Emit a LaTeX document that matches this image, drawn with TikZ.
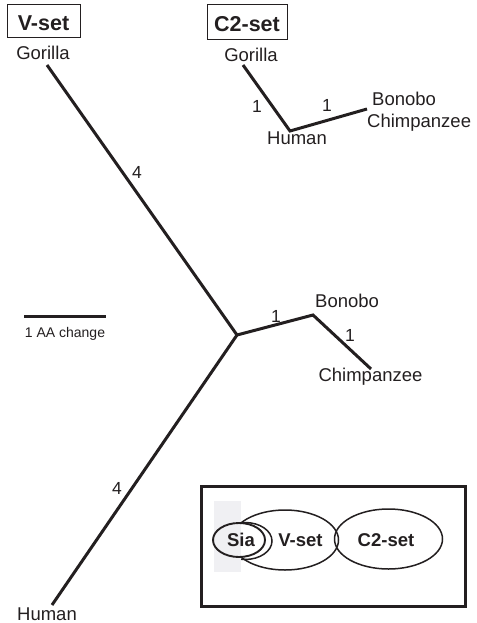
\documentclass[tikz,border=0pt]{standalone}
\usepackage{fontspec}
\setmainfont{Liberation Sans}
\definecolor{ink}{HTML}{231F20}
\definecolor{siagray}{HTML}{F0F0F3}
\begin{document}
\begin{tikzpicture}[x=1pt,y=-1pt,
  lbl/.style={font=\fontsize{18.5}{20}\selectfont, text=ink, inner sep=0pt, anchor=base},
  ttl/.style={font=\fontsize{21.5}{24}\selectfont\bfseries, text=ink, inner sep=0pt, anchor=base},
  setlbl/.style={font=\fontsize{18.5}{20}\selectfont\bfseries, text=ink, inner sep=0pt, anchor=base},
  num/.style={font=\fontsize{17.5}{19}\selectfont, text=ink, inner sep=0pt},
  branch/.style={draw=ink, line width=3pt, line join=miter},
  setline/.style={draw=ink, line width=1.5pt}]
\useasboundingbox (0,0) rectangle (476,623);

% title boxes
\draw[ink, line width=1pt] (7,5) rectangle (80,38);
\node[ttl] (vtitle) at (43.5,30.5) {V-set};
\draw[ink, line width=1pt] (207,5) rectangle (287,40);
\node[ttl] (ctitle) at (247,31.5) {C2-set};

% main tree
\coordinate (mg) at (47,65);
\coordinate (mc) at (237,335);
\coordinate (mh) at (52,605);
\coordinate (mj) at (313,315);
\coordinate (mch) at (371,369);
\draw[branch] (mg) -- (mc) -- (mh);
\draw[branch] (mc) -- (mj) -- (mch);
\node[lbl] (mgor) at (43,60) {Gorilla};
\node[lbl] (mhum) at (47,620.5) {Human};
\node[lbl, anchor=base west] (mbon) at (315,307.5) {Bonobo};
\node[lbl] (mchi) at (370.5,381.7) {Chimpanzee};
\node[num] (n4a) at (137,172) {4};
\node[num] (n4b) at (117,488) {4};
\node[num] (n1a) at (276,316.5) {1};
\node[num] (n1b) at (350,335) {1};

% C2 tree
\coordinate (cg) at (243,65);
\coordinate (ch) at (290,131);
\coordinate (cb) at (367,109);
\draw[branch] (cg) -- (ch) -- (cb);
\node[lbl] (cgor) at (251,61.5) {Gorilla};
\node[lbl] (chum) at (297,144.5) {Human};
\node[lbl, anchor=base west] (cbon) at (372,106) {Bonobo};
\node[lbl, anchor=base west] (cchi) at (367,127.5) {Chimpanzee};
\node[num] (n1c) at (257,106.5) {1};
\node[num] (n1d) at (327,105) {1};

% scale bar
\coordinate (sb1) at (24,316);
\coordinate (sb2) at (106,316);
\draw[branch] (sb1) -- (sb2);
\node[font=\fontsize{14}{16}\selectfont, text=ink, inner sep=0pt, anchor=base] (sbl) at (65,337) {1 AA change};

% inset
\draw[ink, line width=3pt] (201,486) rectangle (465,606);
\draw[setline] (285,540) ellipse [x radius=53.5pt, y radius=30pt];
\draw[setline] (388.5,539) ellipse [x radius=54pt, y radius=30pt];
\draw[setline] (245,541) ellipse [x radius=27pt, y radius=18.5pt];
\fill[siagray] (214,501) rectangle (241,572);
\draw[ink, line width=1.9pt] (239,540) ellipse [x radius=26pt, y radius=17pt];
\node[setlbl] (sia) at (241,546.6) {Sia};
\node[setlbl] (vset) at (300.5,546.6) {V-set};
\node[setlbl] (cset) at (386,546) {C2-set};
\end{tikzpicture}
\end{document}
